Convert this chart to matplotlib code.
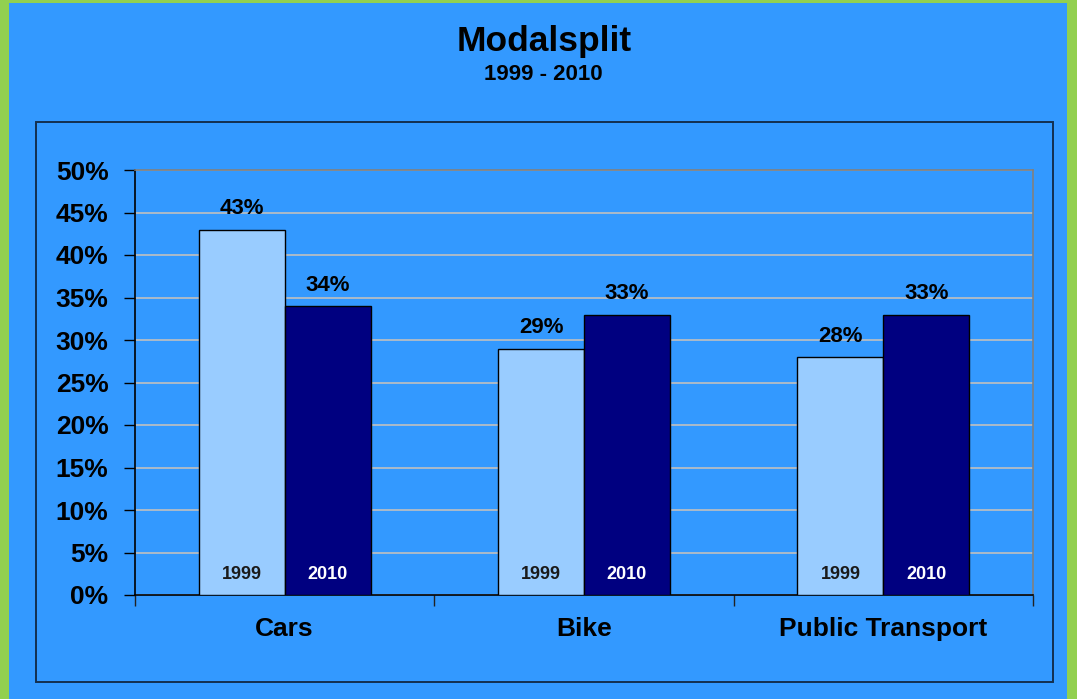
import matplotlib.pyplot as plt
import matplotlib.patches as mpatches
import numpy as np

plt.rcParams['font.family'] = ['Liberation Sans', 'DejaVu Sans']

categories = ['Cars', 'Bike', 'Public Transport']
years = ['1999', '2010']
values_1999 = [43, 29, 28]
values_2010 = [34, 33, 33]
yticks = [0, 5, 10, 15, 20, 25, 30, 35, 40, 45, 50]

BG = '#3399FF'
GREEN = '#92D050'
LIGHT = '#99CCFF'
DARK = '#000080'

fig = plt.figure(figsize=(10.77, 6.99), dpi=100, facecolor=GREEN)
W, H = 1077, 699

# blue background inside green frame
fig.patches.append(mpatches.Rectangle((9 / W, 0), (1067 - 9) / W, (H - 3) / H,
                                      transform=fig.transFigure, facecolor=BG,
                                      edgecolor='none', zorder=-2))
# chart box
fig.patches.append(mpatches.Rectangle((36 / W, 1 - 682 / H), (1053 - 36) / W, (682 - 122) / H,
                                      transform=fig.transFigure, facecolor='none',
                                      edgecolor='#14304F', linewidth=1.4, zorder=-1))

fig.text(544 / W, 1 - 41 / H, 'Modalsplit', ha='center', va='center',
         fontsize=25.5, fontweight='bold')
fig.text(543 / W, 1 - 75 / H, '1999 - 2010', ha='center', va='center',
         fontsize=16, fontweight='bold')

ax = fig.add_axes([135 / W, 1 - 595 / H, (1033 - 135) / W, (595 - 170) / H])
ax.set_zorder(2)
ax.set_facecolor(BG)

x = np.arange(len(categories))
bw = 0.287
b1 = ax.bar(x - bw / 2, values_1999, bw, color=LIGHT, edgecolor='black', linewidth=1, zorder=3)
b2 = ax.bar(x + bw / 2, values_2010, bw, color=DARK, edgecolor='black', linewidth=1, zorder=3)

for rect, v in zip(list(b1) + list(b2), values_1999 + values_2010):
    ax.text(rect.get_x() + rect.get_width() / 2, v + 1.2, f'{v}%', ha='center', va='bottom',
            fontsize=16, fontweight='bold', color='black')

for rect in b1:
    ax.text(rect.get_x() + rect.get_width() / 2, 2.4, years[0], ha='center', va='center',
            fontsize=13, fontweight='bold', color='#1a1a1a', zorder=4)
for rect in b2:
    ax.text(rect.get_x() + rect.get_width() / 2, 2.4, years[1], ha='center', va='center',
            fontsize=13, fontweight='bold', color='white', zorder=4)

ax.set_xlim(-0.5, len(categories) - 0.5)
ax.set_ylim(0, 50)
ax.set_yticks(yticks)
ax.set_yticklabels([f'{t}%' for t in yticks], fontsize=19, fontweight='bold')
ax.yaxis.grid(True, color='#C0C0C0', linewidth=1.2, zorder=0)
ax.set_axisbelow(True)

ax.set_xticks(x)
ax.set_xticklabels(categories, fontsize=19, fontweight='bold')
ax.set_xticks(np.arange(-0.5, len(categories), 1), minor=True)
ax.tick_params(axis='x', which='major', length=0, pad=16)
ax.tick_params(axis='x', which='minor', length=8, width=1, direction='out', color='#222222')
ax.tick_params(axis='y', length=8, width=1, direction='out', pad=11)

for side in ['left', 'bottom']:
    ax.spines[side].set_color('black')
    ax.spines[side].set_linewidth(1.2)
for side in ['top', 'right']:
    ax.spines[side].set_color('#808080')
    ax.spines[side].set_linewidth(1.2)

fig.savefig('out.png', dpi=100, facecolor=fig.get_facecolor())
